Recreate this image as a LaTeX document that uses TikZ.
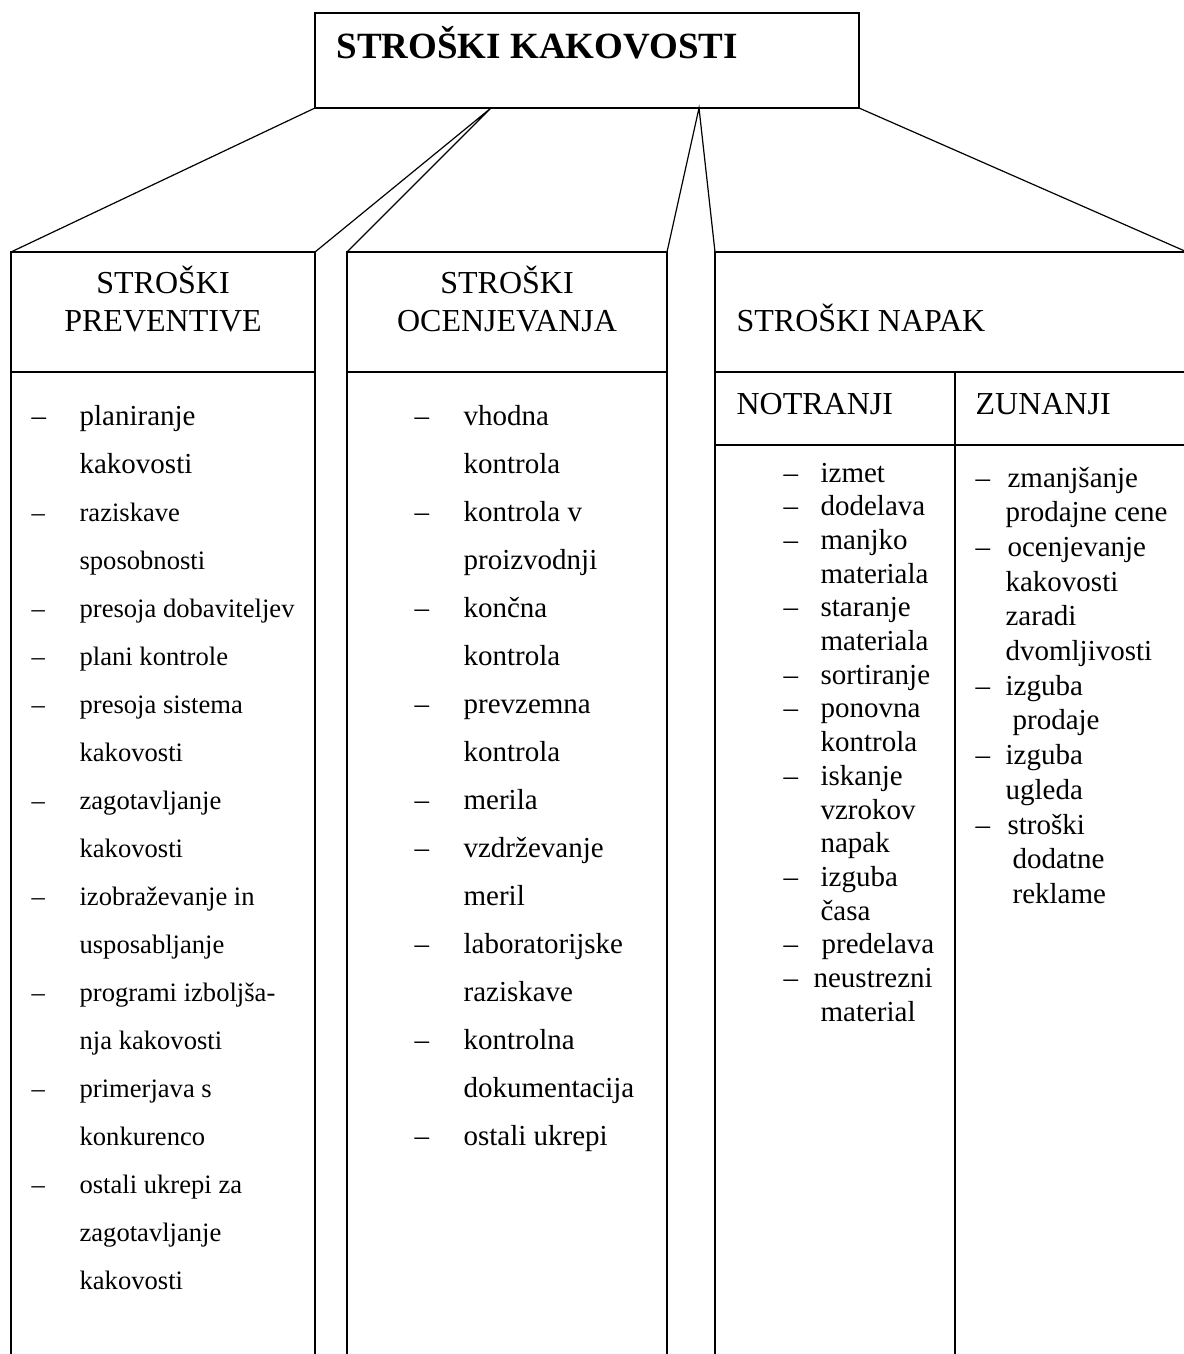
\documentclass[tikz,border=0pt]{standalone}
\usepackage{fontspec}
\setmainfont{Liberation Serif}
\begin{document}
\begin{tikzpicture} [x = 1pt, y = -1pt, line width = 1.2pt,
	hbox/.style = {draw, rectangle, inner sep = 0, outer sep = 0},
	txt/.style = {inner sep = 0, anchor = base west, font = \fontsize{29}{34}\selectfont},
	txtsm/.style = {txt, font = \fontsize{26.6}{32}\selectfont},
	head/.style = {inner sep = 0, font = \fontsize{32}{38}\selectfont}]
	\useasboundingbox (0,0) rectangle (1183,1354);
	% glavni okvir
	\node [hbox, minimum width = 544pt, minimum height = 95pt] (top) at (587,60.5) {};
	\node [inner sep = 0, anchor = base west, font = \fontsize{37}{44}\selectfont\bfseries] (title) at (336,59) {STROŠKI KAKOVOSTI};
	% glave stolpcev
	\node [hbox, minimum width = 304pt, minimum height = 120pt] (prev) at (163,312) {};
	\node [hbox, minimum width = 320pt, minimum height = 120pt] (ocen) at (507,312) {};
	\node [hbox, minimum width = 472pt, minimum height = 120pt] (napak) at (951,312) {};
	\node [hbox, minimum width = 240pt, minimum height = 73pt] (notr) at (835,408.5) {};
	\node [hbox, minimum width = 232pt, minimum height = 73pt] (zun) at (1071,408.5) {};
	\node [head, anchor = base] (prevh1) at (163,293) {STROŠKI};
	\node [head, anchor = base] (prevh2) at (163,331) {PREVENTIVE};
	\node [head, anchor = base] (ocenh1) at (507,293) {STROŠKI};
	\node [head, anchor = base] (ocenh2) at (507,331) {OCENJEVANJA};
	\node [head, anchor = base west] (napakh) at (736,331) {STROŠKI NAPAK};
	\node [head, anchor = base west] (notrh) at (736,414) {NOTRANJI};
	\node [head, anchor = base west] (zunh) at (975,414) {ZUNANJI};
	% povezave
	\coordinate (sa) at (491,108);
	\coordinate (sb) at (699,108);
	\draw (top.south west) -- (prev.north west);
	\draw (prev.north east) -- (sa) -- (ocen.north west);
	\draw (ocen.north east) -- (sb) -- (napak.north west);
	\draw (top.south east) -- (napak.north east);
	% stolpci navzdol
	\coordinate (bot) at (0,1360);
	\draw (prev.south west) -- (prev.south west |- bot);
	\draw (prev.south east) -- (prev.south east |- bot);
	\draw (ocen.south west) -- (ocen.south west |- bot);
	\draw (ocen.south east) -- (ocen.south east |- bot);
	\draw (notr.south west) -- (notr.south west |- bot);
	\draw (notr.south east) -- (notr.south east |- bot);
	% preventiva
	\node [txt] (prev1) at (79,425) {planiranje};
	\node [txt] (prev2) at (79,473) {kakovosti};
	\node [txt] (prevd1) at (31,425) {\textendash};
	\foreach \t [count = \i from 3] in {raziskave, sposobnosti, presoja dobaviteljev, plani kontrole, presoja sistema, kakovosti, zagotavljanje, kakovosti, izobraževanje in, usposabljanje, programi izboljša-, nja kakovosti, primerjava s, konkurenco, ostali ukrepi za, zagotavljanje, kakovosti}
		\node [txtsm] (prev\i) at (79, {425 + 48*(\i - 1)}) {\t};
	\foreach \i in {3,5,6,7,9,11,13,15,17}
		\node [txtsm] (prevd\i) at (31, {425 + 48*(\i - 1)}) {\textendash};
	% ocenjevanje
	\foreach \t [count = \i] in {vhodna, kontrola, kontrola v, proizvodnji, končna, kontrola, prevzemna, kontrola, merila, vzdrževanje, meril, laboratorijske, raziskave, kontrolna, dokumentacija, ostali ukrepi}
		\node [txt] (ocen\i) at (463, {425 + 48*(\i - 1)}) {\t};
	\foreach \i in {1,3,5,7,9,10,12,14,16}
		\node [txt] (ocend\i) at (414, {425 + 48*(\i - 1)}) {\textendash};
	% notranji
	\foreach \x/\t [count = \i] in {820/izmet, 820/dodelava, 820/manjko, 820/materiala, 820/staranje, 820/materiala, 820/sortiranje, 820/ponovna, 820/kontrola, 820/iskanje, 820/vzrokov, 820/napak, 820/izguba, 820/časa, 821/predelava, 813/neustrezni, 820/material}
		\node [txt] (notr\i) at (\x, {482 + 33.7*(\i - 1)}) {\t};
	\foreach \i in {1,2,3,5,7,8,10,13,15,16}
		\node [txt] (notrd\i) at (783, {482 + 33.7*(\i - 1)}) {\textendash};
	% zunanji
	\foreach \x/\t [count = \i] in {1007/zmanjšanje, 1005/prodajne cene, 1007/ocenjevanje, 1005/kakovosti, 1005/zaradi, 1005/dvomljivosti, 1005/izguba, 1012/prodaje, 1005/izguba, 1005/ugleda, 1007/stroški, 1012/dodatne, 1012/reklame}
		\node [txt] (zun\i) at (\x, {487 + 34.7*(\i - 1)}) {\t};
	\foreach \i in {1,3,7,9,11}
		\node [txt] (zund\i) at (975, {487 + 34.7*(\i - 1)}) {\textendash};
\end{tikzpicture}
\end{document}
